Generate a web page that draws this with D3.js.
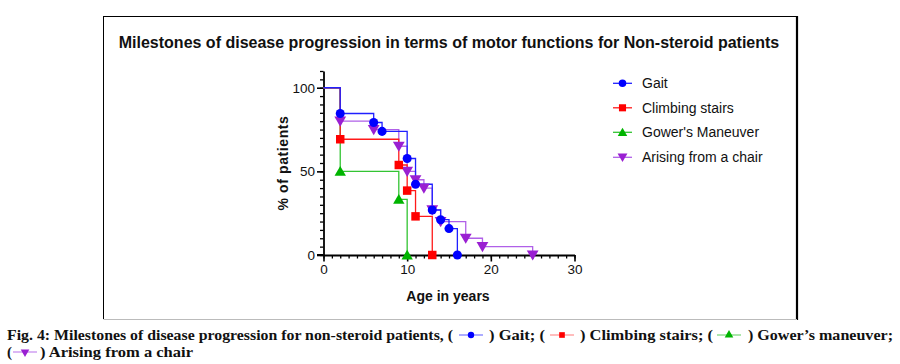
<!DOCTYPE html>
<html><head><meta charset="utf-8">
<script src="https://cdn.jsdelivr.net/npm/d3@7"></script>
<style>
body{margin:0;background:#fff;}
svg{display:block;}
</style></head>
<body>
<svg id="chart" width="900" height="364"></svg>
<script>
// ---- data ----
const chartTitle = "Milestones of disease progression in terms of motor functions for Non-steroid patients";
const seriesNames = ["Gait", "Climbing stairs", "Gower's Maneuver", "Arising from a chair"];
const gaitAge = [0, 2, 6, 7, 10, 11, 13, 14, 15, 16];
const gaitPct = [100, 84.6, 79.2, 73.9, 57.7, 42.3, 26.9, 21.1, 15.8, 0];
const stairsAge = [0, 2, 9, 10, 11, 13];
const stairsPct = [100, 69.2, 53.8, 38.5, 23.1, 0];
const gowerAge = [0, 2, 9, 10];
const gowerPct = [100, 50, 33.3, 0];
const chairAge = [0, 2, 6, 9, 10, 11, 12, 13, 14, 17, 19, 25];
const chairPct = [100, 80, 75, 65, 50, 45, 40, 27, 20, 10, 5, 0];
const xMajorTicks = [0, 10, 20, 30];
const yMajorTicks = [0, 50, 100];
const xLabel = "Age in years";
const yLabel = "% of patients";
const captionLine1 = ["Fig. 4: Milestones of disease progression for non-steroid patients, (", ") Gait; (", ") Climbing stairs; (", ") Gower\u2019s maneuver;"];
const captionLine2 = ["(", ") Arising from a chair"];

// ---- styles ----
const markerColors = ["#0000ff", "#ff0000", "#00b400", "#9a1fd2"];
const lineColors = ["#2020ff", "#ff1a1a", "#33c433", "#b060e8"];
const capLineColors = ["#8080ff", "#ff9a9a", "#7fd97f", "#c890f0"];
const symbols = [d3.symbolCircle, d3.symbolSquare, d3.symbolTriangle, d3.symbolTriangle];
const symbolSizes = [64, 72, 56, 60];
const rotations = [0, 0, 0, 180];

const svg = d3.select("#chart");

// frame
svg.append("line").attr("x1",103.5).attr("y1",16.5).attr("x2",797).attr("y2",16.5).attr("stroke","#000").attr("stroke-width",1);
svg.append("line").attr("x1",103.5).attr("y1",16).attr("x2",103.5).attr("y2",319).attr("stroke","#000").attr("stroke-width",1);
svg.append("line").attr("x1",797).attr("y1",16).attr("x2",797).attr("y2",320).attr("stroke","#000").attr("stroke-width",2.2);
svg.append("line").attr("x1",103.5).attr("y1",319.5).attr("x2",797).attr("y2",319.5).attr("stroke","#bbb").attr("stroke-width",1);

// title
svg.append("text").attr("x",449).attr("y",47.5).attr("text-anchor","middle")
  .attr("font-family","Liberation Sans, Arial, sans-serif").attr("font-weight","bold").attr("font-size",16)
  .attr("fill","#111").text(chartTitle);

const x = d3.scaleLinear().domain([0,30]).range([323.5, 574.5]);
const y = d3.scaleLinear().domain([0,110]).range([255, 71]);

const axisFont = "Liberation Sans, Arial, sans-serif";

// y axis minor
svg.append("g").attr("transform",`translate(${x(0)},0)`)
  .call(d3.axisLeft(y).tickValues(d3.range(0,111,5)).tickSize(3.5).tickFormat("").tickSizeOuter(0))
  .call(g=>{g.select(".domain").attr("stroke","#000").attr("stroke-width",1.8);g.selectAll(".tick line").attr("stroke","#000").attr("stroke-width",1.3);});
// y axis major
svg.append("g").attr("transform",`translate(${x(0)},0)`)
  .call(d3.axisLeft(y).tickValues(yMajorTicks).tickSize(6.5).tickPadding(2).tickSizeOuter(0))
  .call(g=>{g.select(".domain").remove();g.selectAll(".tick line").attr("stroke","#000").attr("stroke-width",1.6);
    g.selectAll("text").attr("font-family",axisFont).attr("font-size",13.5).attr("fill","#111");});

// x axis minor
svg.append("g").attr("transform",`translate(0,${y(0)})`)
  .call(d3.axisBottom(x).tickValues(d3.range(0,31,1)).tickSize(3.5).tickFormat("").tickSizeOuter(0))
  .call(g=>{g.select(".domain").attr("stroke","#000").attr("stroke-width",2);g.selectAll(".tick line").attr("stroke","#000").attr("stroke-width",1.3);});
svg.append("line").attr("x1",x(0)-6.5).attr("x2",x(0)).attr("y1",y(0)).attr("y2",y(0)).attr("stroke","#000").attr("stroke-width",2);
// x axis major
svg.append("g").attr("transform",`translate(0,${y(0)})`)
  .call(d3.axisBottom(x).tickValues(xMajorTicks).tickSize(6.5).tickPadding(3).tickSizeOuter(0))
  .call(g=>{g.select(".domain").remove();g.selectAll(".tick line").attr("stroke","#000").attr("stroke-width",1.6);
    g.selectAll("text").attr("font-family",axisFont).attr("font-size",13.5).attr("fill","#111");});

// axis titles
svg.append("text").attr("x",448).attr("y",301).attr("text-anchor","middle")
  .attr("font-family",axisFont).attr("font-weight","bold").attr("font-size",14).attr("fill","#111").text(xLabel);
svg.append("text").attr("transform","translate(288,163) rotate(-90)").attr("text-anchor","middle")
  .attr("font-family",axisFont).attr("font-weight","bold").attr("font-size",14).attr("letter-spacing",0.6).attr("fill","#111").text(yLabel);

// series
const series = [
  {ages: gaitAge, pct: gaitPct},
  {ages: stairsAge, pct: stairsPct},
  {ages: gowerAge, pct: gowerPct},
  {ages: chairAge, pct: chairPct}
];
const line = d3.line().x(d=>x(d[0])).y(d=>y(d[1])).curve(d3.curveStepAfter);
const drawOrder = [3,2,1,0];
drawOrder.forEach(i=>{
  const pts = series[i].ages.map((a,k)=>[a, series[i].pct[k]]);
  svg.append("path").datum(pts).attr("d",line).attr("fill","none")
    .attr("stroke",lineColors[i]).attr("stroke-width",1.3);
});
drawOrder.forEach(i=>{
  const pts = series[i].ages.map((a,k)=>[a, series[i].pct[k]]).slice(1);
  svg.append("g").selectAll("path").data(pts).join("path")
    .attr("d", d3.symbol().type(symbols[i]).size(symbolSizes[i]))
    .attr("transform", d=>`translate(${x(d[0])},${y(d[1]) + (i===2? 1.2 : i===3 ? -1.2 : 0)}) rotate(${rotations[i]})`)
    .attr("fill", markerColors[i]);
});

// legend
const legendY = [83.3, 107.8, 132.3, 157.3];
seriesNames.forEach((name,i)=>{
  const g = svg.append("g").attr("transform",`translate(0,${legendY[i]})`);
  g.append("line").attr("x1",613).attr("x2",632).attr("y1",0).attr("y2",0).attr("stroke",lineColors[i]).attr("stroke-width",1.3);
  g.append("path").attr("d", d3.symbol().type(symbols[i]).size(symbolSizes[i]*0.7))
    .attr("transform",`translate(622.5,${i===2?1:i===3?-1:0}) rotate(${rotations[i]})`).attr("fill",markerColors[i]);
  g.append("text").attr("x",642).attr("y",5).attr("font-family",axisFont).attr("font-size",14).attr("fill","#111").text(name);
});

// caption
const capFont = "Liberation Serif, 'Times New Roman', serif";
function capText(txt, xx, yy, len){
  const t = svg.append("text").attr("x",xx).attr("y",yy).attr("font-family",capFont).attr("font-weight","bold")
    .attr("font-size",15).attr("fill","#111").text(txt);
  if(len) t.attr("textLength",len).attr("lengthAdjust","spacingAndGlyphs");
  return t;
}
function capMarker(i, cx, cy){
  svg.append("line").attr("x1",cx-12).attr("x2",cx+12).attr("y1",cy).attr("y2",cy).attr("stroke",capLineColors[i]).attr("stroke-width",1.3);
  svg.append("path").attr("d", d3.symbol().type(symbols[i]).size(32))
    .attr("transform",`translate(${cx},${cy}) rotate(${rotations[i]})`).attr("fill",markerColors[i]);
}
const l1y = 340, l2y = 357;
capText(captionLine1[0], 7, l1y, 446);
capMarker(0, 471, l1y-5);
capText(captionLine1[1], 489, l1y, 56);
capMarker(1, 562, l1y-5);
capText(captionLine1[2], 580, l1y, 133);
capMarker(2, 729, l1y-5);
capText(captionLine1[3], 748, l1y, 145);
capText(captionLine2[0], 7, l2y);
capMarker(3, 25, l2y-5);
capText(captionLine2[1], 40, l2y, 153);
</script>
</body></html>
